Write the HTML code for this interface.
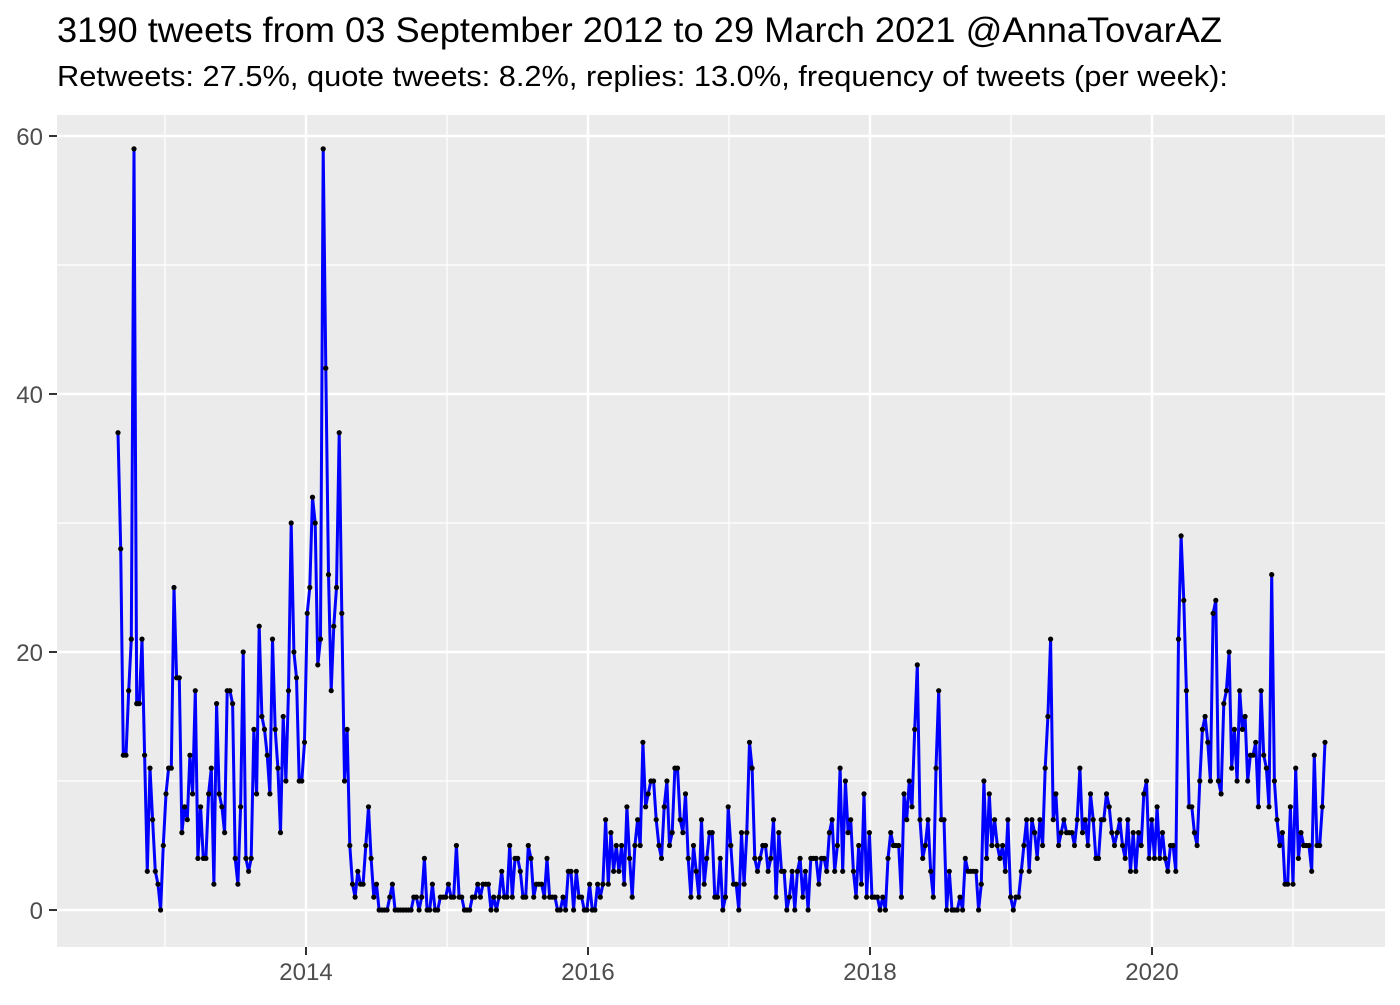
<!DOCTYPE html>
<html><head><meta charset="utf-8"><style>
body{margin:0;background:#fff;font-family:"Liberation Sans",sans-serif;}
</style></head><body>
<svg id="s" width="1400" height="1000" xmlns="http://www.w3.org/2000/svg" font-family="Liberation Sans, sans-serif">
<text x="57" y="42" font-size="35.5" fill="#000" textLength="1165" lengthAdjust="spacingAndGlyphs">3190 tweets from 03 September 2012 to 29 March 2021 @AnnaTovarAZ</text>
<text x="57" y="86" font-size="29" fill="#000" textLength="1171" lengthAdjust="spacingAndGlyphs">Retweets: 27.5%, quote tweets: 8.2%, replies: 13.0%, frequency of tweets (per week):</text>
<rect x="57" y="115" width="1328" height="832" fill="#ebebeb"/>
<g id="grid"></g>
<g id="data"></g>
<g font-size="24" fill="#4d4d4d" text-anchor="end">
<text x="43" y="919">0</text><text x="43" y="661">20</text><text x="43" y="403">40</text><text x="43" y="145">60</text>
</g>
<g font-size="24" fill="#4d4d4d" text-anchor="middle">
<text x="306" y="980">2014</text><text x="588" y="980">2016</text><text x="870" y="980">2018</text><text x="1152" y="980">2020</text>
</g>
<g stroke="#333" stroke-width="2">
<line x1="49" y1="910" x2="57" y2="910"/><line x1="49" y1="652" x2="57" y2="652"/><line x1="49" y1="394" x2="57" y2="394"/><line x1="49" y1="136" x2="57" y2="136"/>
<line x1="306" y1="947" x2="306" y2="955"/><line x1="588" y1="947" x2="588" y2="955"/><line x1="870" y1="947" x2="870" y2="955"/><line x1="1152" y1="947" x2="1152" y2="955"/>
</g>
</svg>
<script>
function y(v){return 910-v*12.9;}
var g=document.getElementById('grid'),h='';
[10,30,50].forEach(function(v){h+='<line x1="57" x2="1385" y1="'+y(v)+'" y2="'+y(v)+'" stroke="#fff" stroke-width="1.2"/>';});
[165,447,729,1011,1293].forEach(function(x){h+='<line y1="115" y2="947" x1="'+x+'" x2="'+x+'" stroke="#fff" stroke-width="1.2"/>';});
[0,20,40,60].forEach(function(v){h+='<line x1="57" x2="1385" y1="'+y(v)+'" y2="'+y(v)+'" stroke="#fff" stroke-width="2.4"/>';});
[306,588,870,1152].forEach(function(x){h+='<line y1="115" y2="947" x1="'+x+'" x2="'+x+'" stroke="#fff" stroke-width="2.4"/>';});
g.innerHTML=h;
var d=[37,28,12,12,17,21,59,16,16,21,12,3,11,7,3,2,0,5,9,11,11,25,18,18,6,8,7,12,9,17,4,8,4,4,9,11,2,16,9,8,6,17,17,16,4,2,8,20,4,3,4,14,9,22,15,14,12,9,21,14,11,6,15,10,17,30,20,18,10,10,13,23,25,32,30,19,21,59,42,26,17,22,25,37,23,10,14,5,2,1,3,2,2,5,8,4,1,2,0,0,0,0,1,2,0,0,0,0,0,0,0,1,1,0,1,4,0,0,2,0,0,1,1,1,2,1,1,5,1,1,0,0,0,1,1,2,1,2,2,2,0,1,0,1,3,1,1,5,1,4,4,3,1,1,5,4,1,2,2,2,1,4,1,1,1,0,0,1,0,3,3,0,3,1,1,0,0,2,0,0,2,1,2,7,2,6,3,5,3,5,2,8,4,1,5,7,5,13,8,9,10,10,7,5,4,8,10,5,6,11,11,7,6,9,4,1,5,3,1,7,2,4,6,6,1,1,4,0,1,8,5,2,2,0,6,2,6,13,11,4,3,4,5,5,3,4,7,1,6,3,3,0,1,3,0,3,4,1,3,0,4,4,4,2,4,4,3,6,7,3,5,11,3,10,6,7,3,1,5,2,9,1,6,1,1,1,0,1,0,4,6,5,5,5,1,9,7,10,8,14,19,7,4,5,7,3,1,11,17,7,7,0,3,0,0,0,1,0,4,3,3,3,3,0,2,10,4,9,5,7,5,4,5,3,7,1,0,1,1,3,5,7,3,7,6,4,7,5,11,15,21,7,9,5,6,7,6,6,6,5,7,11,6,7,5,9,7,4,4,7,7,9,8,6,5,6,7,5,4,7,3,6,3,6,5,9,10,4,7,4,8,4,6,4,3,5,5,3,21,29,24,17,8,8,6,5,10,14,15,13,10,23,24,10,9,16,17,20,11,14,10,17,14,15,10,12,12,13,8,17,12,11,8,26,10,7,5,6,2,2,8,2,11,4,6,5,5,5,3,12,5,5,8,13];
var n=d.length,x0=118,x1=1325,pts=[],c='';
for(var i=0;i<n;i++){var x=x0+(x1-x0)*i/(n-1);pts.push(x.toFixed(1)+','+y(d[i]).toFixed(1));c+='<circle cx="'+x.toFixed(1)+'" cy="'+y(d[i]).toFixed(1)+'" r="2.6" fill="#000"/>';}
document.getElementById('data').innerHTML='<polyline points="'+pts.join(' ')+'" fill="none" stroke="#0000ff" stroke-width="3" stroke-linejoin="round"/>'+c;
</script>
</body></html>
